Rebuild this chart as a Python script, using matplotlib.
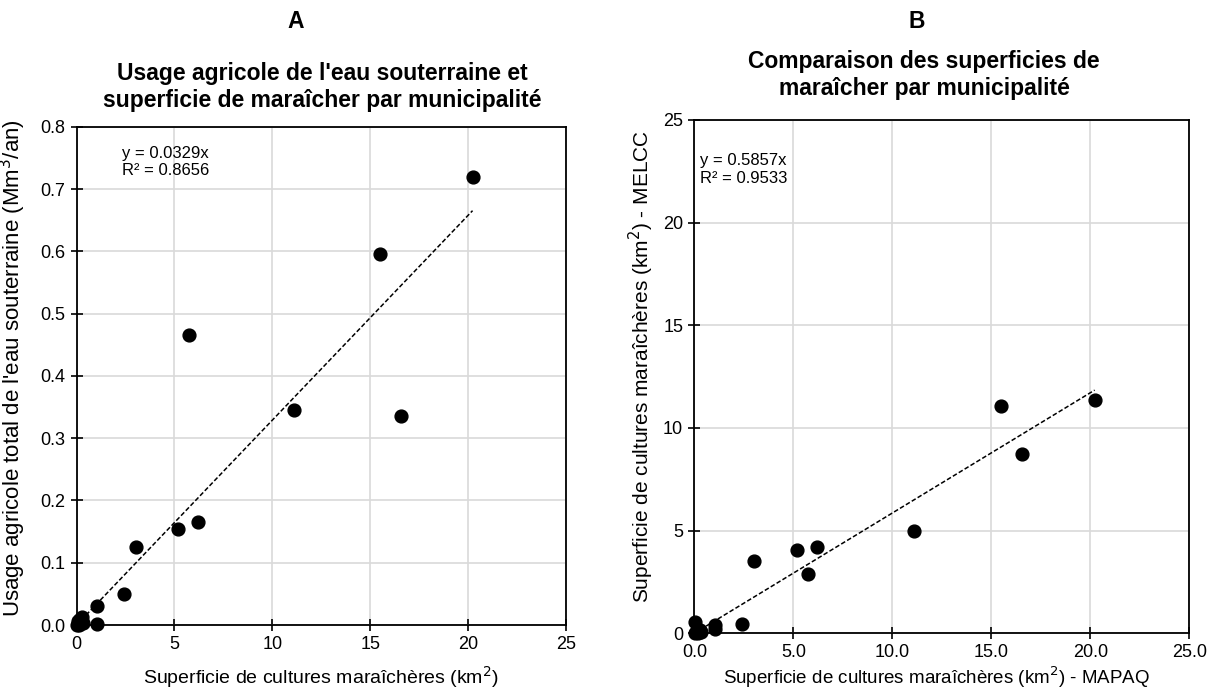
import numpy as np
import matplotlib
matplotlib.use("Agg")
import matplotlib.pyplot as plt

plt.rcParams['font.family'] = ['Liberation Sans', 'DejaVu Sans']

# superficie maraichere MAPAQ (km2), one value per municipalite
superficie_mapaq = [20.22, 15.5, 16.57, 11.1, 5.75, 5.2, 6.2, 3.02, 2.43, 1.03, 1.03,
                    0.02, 0.05, 0.1, 0.15, 0.2, 0.3, 0.35]
# usage agricole total de l'eau souterraine (Mm3/an)
usage_eau = [0.72, 0.595, 0.335, 0.345, 0.465, 0.154, 0.165, 0.125, 0.05, 0.031, 0.001,
             0.0, 0.002, 0.006, 0.0, 0.01, 0.013, 0.004]
# superficie maraichere MELCC (km2)
superficie_melcc = [11.35, 11.08, 8.72, 4.99, 2.87, 4.08, 4.21, 3.52, 0.45, 0.39, 0.2,
                    0.55, 0.0, 0.05, 0.1, 0.0, 0.15, 0.05]

pente_a = 0.0329
r2_a = 0.8656
pente_b = 0.5857
r2_b = 0.9533

fig = plt.figure(figsize=(12.09, 6.94), dpi=100)
ax1 = fig.add_axes([0.0633, 0.0994, 0.4050, 0.7180])
ax2 = fig.add_axes([0.5743, 0.0875, 0.4094, 0.7396])

grid_col = '#d9d9d9'


def style_axes(ax):
    ax.grid(True, color=grid_col, linewidth=1.2)
    ax.set_axisbelow(True)
    for s in ax.spines.values():
        s.set_linewidth(1.3)
        s.set_color('black')
    ax.tick_params(direction='inout', length=8, width=1.2, labelsize=13, pad=4)


# --- Panel A ---
x = np.array(superficie_mapaq)
ax1.scatter(superficie_mapaq, usage_eau, s=85, color='black', zorder=3, clip_on=False)
xs = np.array([0, x.max()])
ax1.plot(xs, pente_a * xs, color='black', linestyle=(0, (3, 1.5)), linewidth=1.1, zorder=2)
ax1.set_xlim(0, 25)
ax1.set_ylim(0, 0.8)
ax1.set_xticks([0, 5, 10, 15, 20, 25])
ax1.set_yticks(np.arange(0, 0.81, 0.1))
ax1.set_yticklabels([f"{v:.1f}" for v in np.arange(0, 0.81, 0.1)])
style_axes(ax1)
ax1.set_xlabel("Superficie de cultures maraîchères (km$^2$)", fontsize=14)
ax1.xaxis.set_label_coords(0.5, -0.078)
ax1.set_ylabel("Usage agricole total de l'eau souterraine (Mm$^3$/an)", fontsize=16)
ax1.yaxis.set_label_coords(-0.099, 0.515)
ax1.text(0.092, 0.962, f"y = {pente_a}x\nR² = {r2_a}", transform=ax1.transAxes,
         fontsize=12, va='top', ha='left', linespacing=1.2)

# --- Panel B ---
ax2.scatter(superficie_mapaq, superficie_melcc, s=85, color='black', zorder=3, clip_on=False)
ax2.plot(xs, pente_b * xs, color='black', linestyle=(0, (3, 1.5)), linewidth=1.1, zorder=2)
ax2.set_xlim(0, 25)
ax2.set_ylim(0, 25)
ax2.set_xticks([0, 5, 10, 15, 20, 25])
ax2.set_xticklabels([f"{v:.1f}" for v in [0, 5, 10, 15, 20, 25]])
ax2.set_yticks([0, 5, 10, 15, 20, 25])
style_axes(ax2)
ax2.set_xlabel("Superficie de cultures maraîchères (km$^2$) - MAPAQ", fontsize=13.5)
ax2.xaxis.set_label_coords(0.49, -0.06)
ax2.set_ylabel("Superficie de cultures maraîchères (km$^2$) - MELCC", fontsize=15)
ax2.yaxis.set_label_coords(-0.077, 0.52)
ax2.text(0.012, 0.935, f"y = {pente_b}x\nR² = {r2_b}", transform=ax2.transAxes,
         fontsize=12, va='top', ha='left', linespacing=1.2)

# --- titres ---
fig.text(296 / 1209, 1 - 22 / 694, "A", fontsize=16.5, fontweight='bold', ha='center', va='center')
fig.text(917 / 1209, 1 - 22 / 694, "B", fontsize=16.5, fontweight='bold', ha='center', va='center')
fig.text(322 / 1209, 1 - 87 / 694,
         "Usage agricole de l'eau souterraine et\nsuperficie de maraîcher par municipalité",
         fontsize=16.5, fontweight='bold', ha='center', va='center', linespacing=1.25)
fig.text(924 / 1209, 1 - 75 / 694,
         "Comparaison des superficies de\nmaraîcher par municipalité",
         fontsize=16.5, fontweight='bold', ha='center', va='center', linespacing=1.25)

fig.savefig("out.png", dpi=100)
